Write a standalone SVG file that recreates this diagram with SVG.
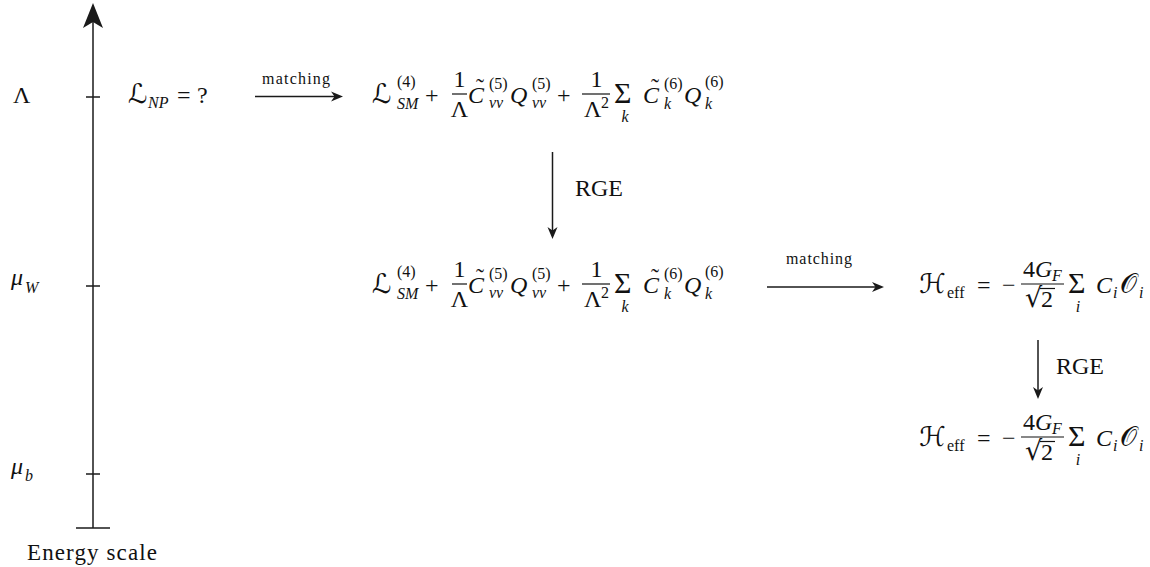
<svg xmlns="http://www.w3.org/2000/svg" width="1150" height="567" viewBox="0 0 1150 567" font-family="Liberation Serif, Times New Roman, serif">
<style>
.m{font-style:italic;font-size:24px;fill:#111}
.r{font-size:24px;fill:#111}
.s{font-size:16px}
.sc{font-family:'DejaVu Sans',sans-serif;font-size:27px;fill:#111}
.big{font-size:30px;fill:#111}
.lab{font-size:16px;fill:#111}
.ln{stroke:#1a1a1a;stroke-width:1.5;fill:none}
.bar{stroke:#111;stroke-width:1.2}
</style>
<defs>
<marker id="arr" viewBox="-16 -6 17 12" markerWidth="17" markerHeight="12" refX="-4" refY="0" orient="auto" markerUnits="userSpaceOnUse">
<path d="M0,0 L-12,-5 L-8.5,0 L-12,5 Z" fill="#1a1a1a"/>
</marker>
<g id="lagr" font-family="Liberation Serif, Times New Roman, serif">
<text class="sc" x="372" y="103">ℒ</text>
<text class="r s" x="397" y="87">(4)</text>
<text class="m s" x="397" y="109">SM</text>
<text class="r" x="425" y="103">+</text>
<text class="r" x="459.5" y="87" text-anchor="middle">1</text>
<line class="bar" x1="452" y1="94" x2="467" y2="94"/>
<text class="r" x="459.5" y="117" text-anchor="middle">Λ</text>
<text class="m" x="468" y="103">C</text>
<text class="r" x="476" y="95">˜</text>
<text class="r s" x="489" y="89">(5)</text>
<text class="m s" x="489" y="108">νν</text>
<text class="m" x="510" y="103">Q</text>
<text class="r s" x="532" y="89">(5)</text>
<text class="m s" x="532" y="108">νν</text>
<text class="r" x="557" y="103">+</text>
<text class="r" x="596.5" y="87" text-anchor="middle">1</text>
<line class="bar" x1="582" y1="94" x2="610" y2="94"/>
<text class="r" x="584" y="117">Λ</text>
<text class="r s" x="601" y="108">2</text>
<text class="big" x="614" y="103">Σ</text>
<text class="m s" x="625" y="122" text-anchor="middle">k</text>
<text class="m" x="643" y="103">C</text>
<text class="r" x="651" y="95">˜</text>
<text class="r s" x="664" y="89">(6)</text>
<text class="m s" x="664" y="109">k</text>
<text class="m" x="684" y="103">Q</text>
<text class="r s" x="705" y="87">(6)</text>
<text class="m s" x="705" y="109">k</text>
</g>
<g id="heff" font-family="Liberation Serif, Times New Roman, serif">
<text class="sc" x="919" y="293">ℋ</text>
<text class="r s" x="947" y="298">eff</text>
<text class="r" x="977" y="293">=</text>
<text class="r" x="1002" y="293">−</text>
<text class="r" x="1023" y="277">4</text>
<text class="m" x="1035" y="277">G</text>
<text class="m s" x="1052" y="281">F</text>
<line class="bar" x1="1021" y1="284" x2="1064" y2="284"/>
<text class="sc" x="1025" y="307" font-size="24">√</text>
<line class="bar" x1="1040" y1="288.5" x2="1055" y2="288.5"/>
<text class="r" x="1041" y="307">2</text>
<text class="big" x="1068" y="293">Σ</text>
<text class="m s" x="1078" y="312" text-anchor="middle">i</text>
<text class="m" x="1096" y="293">C</text>
<text class="m s" x="1113" y="298">i</text>
<text class="sc" x="1120" y="293" font-size="24">𝒪</text>
<text class="m s" x="1139" y="298">i</text>
</g>
</defs>

<g id="axis">
<line class="ln" x1="93" y1="528" x2="93" y2="20"/>
<path d="M93,3 L83,28 L93,22 L103,28 Z" fill="#1a1a1a"/>
<line class="ln" x1="86" y1="97" x2="100" y2="97"/>
<line class="ln" x1="86" y1="286" x2="100" y2="286"/>
<line class="ln" x1="86" y1="474" x2="100" y2="474"/>
<line class="ln" x1="76" y1="528" x2="110" y2="528"/>
<text class="r" x="13" y="103">Λ</text>
<text class="m" x="11" y="285" font-size="26">μ</text>
<text class="m s" x="25" y="293">W</text>
<text class="m" x="11" y="474" font-size="26">μ</text>
<text class="m s" x="25" y="481">b</text>
<text x="27" y="560" font-size="23" fill="#111" textLength="130" lengthAdjust="spacing">Energy scale</text>
</g>

<g id="node-np">
<text class="sc" x="128" y="103">ℒ</text>
<text class="m s" x="148" y="108">NP</text>
<text class="r" x="177" y="103">=</text>
<text class="r" x="197" y="103">?</text>
</g>

<g id="node-lagrangian-lambda"><use href="#lagr"/></g>
<g id="node-lagrangian-muW"><use href="#lagr" transform="translate(0,190)"/></g>
<g id="node-heff-muW"><use href="#heff"/></g>
<g id="node-heff-mub"><use href="#heff" transform="translate(0,153)"/></g>

<g id="connectors">
<line class="ln" x1="255" y1="96.5" x2="339" y2="96.5" marker-end="url(#arr)"/>
<text class="lab" x="262" y="84" textLength="68" lengthAdjust="spacing">matching</text>
<line class="ln" x1="552.5" y1="152" x2="552.5" y2="235" marker-end="url(#arr)"/>
<text class="r" x="575" y="196">RGE</text>
<line class="ln" x1="767" y1="287" x2="880" y2="287" marker-end="url(#arr)"/>
<text class="lab" x="786" y="264" textLength="66" lengthAdjust="spacing">matching</text>
<line class="ln" x1="1038" y1="340" x2="1038" y2="395" marker-end="url(#arr)"/>
<text class="r" x="1056" y="374">RGE</text>
</g>
</svg>
